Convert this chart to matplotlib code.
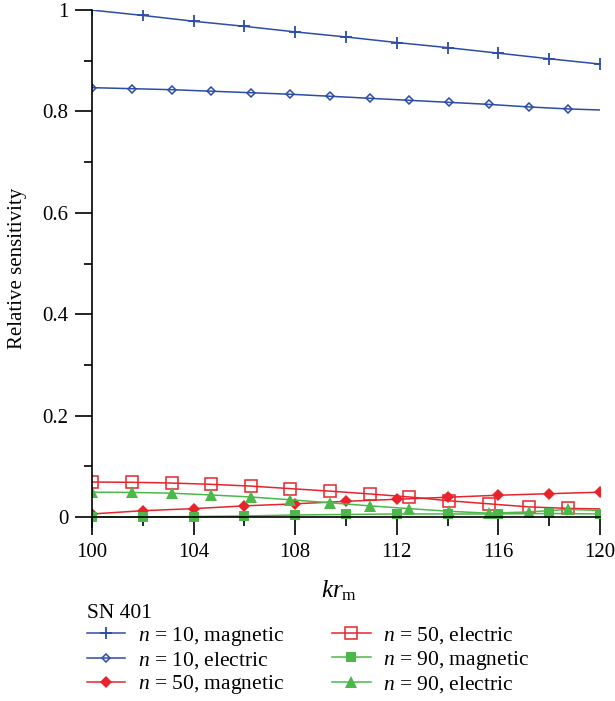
import matplotlib
matplotlib.use("Agg")
import matplotlib.pyplot as plt

plt.rcParams['font.family'] = ['Liberation Serif', 'DejaVu Serif']
plt.rcParams['mathtext.fontset'] = 'custom'
plt.rcParams['mathtext.it'] = 'Liberation Serif:italic'
plt.rcParams['mathtext.rm'] = 'Liberation Serif'

# x positions
x_even = [100, 102, 104, 106, 108, 110, 112, 114, 116, 118, 120]
x_fine = [100, 101.56, 103.13, 104.69, 106.25, 107.81, 109.38, 110.94,
          112.5, 114.06, 115.63, 117.19, 118.75, 120]

# series values
n10_mag = [1.0, 0.9895, 0.978, 0.968, 0.957, 0.947, 0.936, 0.926, 0.915, 0.904, 0.8935]
n10_ele = [0.847, 0.845, 0.843, 0.840, 0.837, 0.834, 0.830, 0.826, 0.822,
           0.818, 0.814, 0.809, 0.805, 0.803]
n50_mag = [0.006, 0.0125, 0.0165, 0.022, 0.026, 0.031, 0.035, 0.039, 0.043, 0.046, 0.049]
n50_ele = [0.069, 0.0685, 0.067, 0.0645, 0.061, 0.056, 0.051, 0.0455, 0.0395,
           0.032, 0.026, 0.020, 0.017, 0.016]
n90_mag = [0.0, 0.0, 0.001, 0.002, 0.004, 0.005, 0.006, 0.006, 0.006, 0.007, 0.006]
n90_ele = [0.049, 0.0485, 0.047, 0.0435, 0.0395, 0.034, 0.028, 0.022, 0.0165,
           0.0113, 0.0075, 0.010, 0.015, 0.013]

labels = ["$n$ = 10, magnetic", "$n$ = 10, electric", "$n$ = 50, magnetic",
          "$n$ = 50, electric", "$n$ = 90, magnetic", "$n$ = 90, electric"]

blue = "#2b4ca8"
red = "#e8232b"
green = "#4cb84a"

fig = plt.figure(figsize=(6.15, 7.01), dpi=100)
ax = fig.add_axes([0.1496, 0.248, 0.826, 0.7376])

skip_last = list(range(13))
ax.plot(x_even, n10_mag, color=blue, lw=1.1, marker='+', ms=9, mew=1.3, label=labels[0])
ax.plot(x_fine, n10_ele, color=blue, lw=1.1, marker='D', ms=4.5, mfc='none', mew=1.1,
        markevery=skip_last, label=labels[1])
ax.plot(x_even, n50_mag, color=red, lw=1.1, marker='D', ms=6, mew=0, label=labels[2])
ax.plot(x_fine, n50_ele, color=red, lw=1.1, marker='s', ms=8, mfc='none', mew=1.1,
        markevery=skip_last, label=labels[3])
ax.plot(x_even, n90_mag, color=green, lw=1.1, marker='s', ms=7.5, mew=0, label=labels[4])
ax.plot(x_fine, n90_ele, color=green, lw=1.1, marker='^', ms=8, mew=0,
        markevery=skip_last, label=labels[5])

ax.set_xlim(100, 120)
ax.set_ylim(-0.02, 1.0)
ax.spines['top'].set_visible(False)
ax.spines['right'].set_visible(False)
ax.spines['bottom'].set_position(('data', 0))
for s in ['left', 'bottom']:
    ax.spines[s].set_linewidth(1.2)

ax.set_xticks([100, 104, 108, 112, 116, 120])
ax.set_xticks([102, 106, 110, 114, 118], minor=True)
ax.set_yticks([0, 0.2, 0.4, 0.6, 0.8, 1.0])
ax.set_yticklabels(["0", "0.2", "0.4", "0.6", "0.8", "1"])
ax.set_yticks([0.1, 0.3, 0.5, 0.7, 0.9], minor=True)
ax.tick_params(axis='x', which='major', direction='out', length=13, width=1.2, labelsize=15, pad=6)
ax.tick_params(axis='x', which='minor', direction='out', length=6.5, width=1.2)
ax.tick_params(axis='y', which='major', direction='out', length=12, width=1.2, labelsize=15, pad=5)
ax.tick_params(axis='y', which='minor', direction='out', length=6, width=1.2)

ax.set_ylabel("Relative sensitivity", fontsize=15)
ax.yaxis.set_label_coords(-0.128, 0.5)
fig.text(0.552, 0.158, "$kr_{\\mathrm{m}}$", fontsize=18, ha='center', va='center')

leg = fig.legend(loc='upper left', bbox_to_anchor=(0.127, 0.151), ncol=2, frameon=False,
                 title="SN 401", fontsize=15.5, title_fontsize=15.5, handlelength=1.8,
                 columnspacing=2.2, labelspacing=0.1, handletextpad=0.6, borderaxespad=0)
leg._legend_box.align = "left"

fig.savefig("out.png", dpi=100)
